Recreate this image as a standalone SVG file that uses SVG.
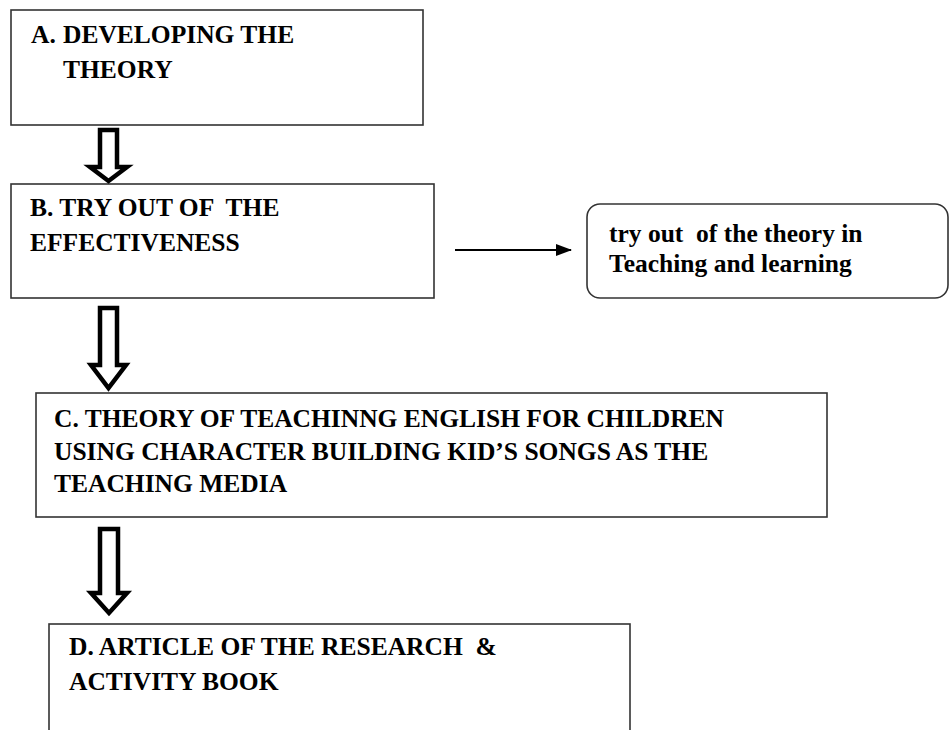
<svg xmlns="http://www.w3.org/2000/svg" width="949" height="730" viewBox="0 0 949 730">
<style>
.box{fill:#fff;stroke:#333;stroke-width:1.6}
.t{font-weight:bold;font-size:25.5px;fill:#000;white-space:pre}
.block{fill:#fff;stroke:#000;stroke-width:4.5;stroke-linejoin:miter}
.thin{stroke:#000;stroke-width:2;fill:none}
</style>
<defs>
<marker id="ah" markerWidth="8" markerHeight="6" refX="7.5" refY="3" orient="auto" markerUnits="strokeWidth">
<path d="M0,0 L8,3 L0,6 Z" fill="#000"/>
</marker>
</defs>
<g font-family="'Liberation Serif', 'DejaVu Serif', serif">
<g id="nodeA">
<rect class="box" x="11" y="10" width="412" height="115"/>
<text class="t" x="31" y="43">A.</text>
<text class="t" x="63" y="43">DEVELOPING THE</text>
<text class="t" x="63" y="78">THEORY</text>
</g>
<g id="nodeB">
<rect class="box" x="11" y="184" width="423" height="114"/>
<text class="t" x="30" y="216" xml:space="preserve">B. TRY OUT OF  THE</text>
<text class="t" x="30" y="251">EFFECTIVENESS</text>
</g>
<g id="nodeSide">
<rect class="box" x="587" y="204" width="361" height="94" rx="13" ry="13"/>
<text class="t" x="609" y="242" xml:space="preserve">try out  of the theory in</text>
<text class="t" x="609" y="272">Teaching and learning</text>
</g>
<g id="nodeC">
<rect class="box" x="36" y="393" width="791" height="124"/>
<text class="t" x="54" y="427">C. THEORY OF TEACHINNG ENGLISH FOR CHILDREN</text>
<text class="t" x="54" y="460">USING CHARACTER BUILDING KID’S SONGS AS THE</text>
<text class="t" x="54" y="492">TEACHING MEDIA</text>
</g>
<g id="nodeD">
<rect class="box" x="49" y="624" width="581" height="120"/>
<text class="t" x="69" y="655" xml:space="preserve">D. ARTICLE OF THE RESEARCH  &amp;</text>
<text class="t" x="69" y="690">ACTIVITY BOOK</text>
</g>
</g>
<g id="connectors">
<polygon class="block" points="100,130 117,130 117,167 127,167 108.5,181 90,167 100,167"/>
<polygon class="block" points="100,308 117,308 117,365 126,365 108.5,388 91,365 100,365"/>
<polygon class="block" points="100,529 118,529 118,593 127,593 109,613 91,593 100,593"/>
<line class="thin" x1="455" y1="250" x2="571" y2="250" marker-end="url(#ah)"/>
</g>
</svg>
